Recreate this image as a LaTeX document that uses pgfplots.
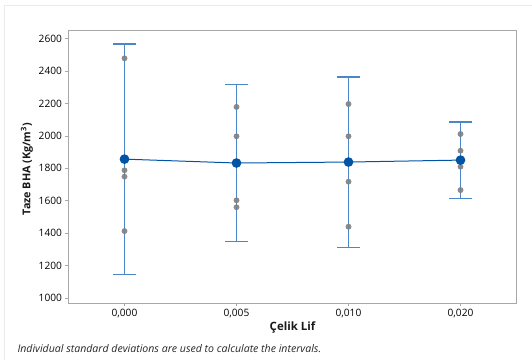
\documentclass[border=0pt]{standalone}
\usepackage{pgfplots}
\pgfplotsset{compat=1.18}
\usepackage{fontspec}
\setmainfont{Open Sans}
\definecolor{meanblue}{HTML}{0054A6}
\definecolor{barblue}{HTML}{4A86C8}
\definecolor{ptgray}{HTML}{808080}
\definecolor{framegray}{HTML}{A8A8A8}
\begin{document}
\begin{tikzpicture}
\path[use as bounding box] (0bp,0bp) rectangle (532bp,360bp);
\draw[color=black!8, line width=0.8bp] (4bp,0bp) -- (4bp,355bp) -- (532bp,355bp);
\begin{axis}[
  at={(68.5bp,57bp)}, anchor=south west,
  scale only axis, width=448bp, height=273bp,
  xmin=-0.5, xmax=3.5, ymin=969, ymax=2654,
  xtick={0,1,2,3},
  xticklabels={{0,000},{0,005},{0,010},{0,020}},
  ytick={1000,1200,...,2600},
  /pgf/number format/1000 sep={},
  /pgf/number format/assume math mode=true,
  tick pos=left, tick align=outside,
  major tick length=3bp,
  tick style={color=framegray, line width=0.6bp},
  axis line style={color=framegray, line width=0.8bp},
  ticklabel style={font=\fontsize{10.2}{12}\selectfont\color{black}},
  xlabel={Çelik Lif},
  ylabel={Taze BHA (Kg/m\textsuperscript{3})},
  label style={font=\fontsize{11.5}{13}\selectfont\bfseries\color{black!90}},
  xlabel style={at={(axis description cs:0.5,-0.088)}, anchor=center},
  ylabel style={at={(axis description cs:-0.0926,0.49)}, anchor=center, font=\fontsize{10.8}{13}\selectfont\bfseries\color{black!90}},
  clip=false,
]
% confidence intervals
\addplot[draw=none, mark=none,
  error bars/.cd, y dir=both, y explicit, error mark=|,
  error bar style={color=barblue, line width=1.3bp},
  error mark options={color=barblue, mark size=11.5bp, line width=1.3bp}]
  coordinates {
  (0,1856) +- (0,711)
  (1,1833) +- (0,483)
  (2,1837) +- (0,527)
  (3,1850) +- (0,236)
};
% individual observations
\addplot[only marks, mark=*, mark size=2.7bp, color=ptgray, fill opacity=0.9, draw opacity=0.9]
  coordinates {
  (0,2479) (0,1788) (0,1749) (0,1413)
  (1,2179) (1,1998) (1,1603) (1,1560)
  (2,2197) (2,1998) (2,1718) (2,1440)
  (3,2012) (3,1909) (3,1810) (3,1666)
};
% means
\addplot[color=meanblue, line width=1bp, mark=*, mark size=4.3bp, mark options={fill=meanblue, draw=meanblue}]
  coordinates {
  (0,1857) (1,1833) (2,1839) (3,1851)
};
\end{axis}
\node[anchor=west, font=\fontsize{10.6}{12}\selectfont\itshape\color{black!85}] at (14bp,11bp)
  {Individual standard deviations are used to calculate the intervals.};
\end{tikzpicture}
\end{document}
